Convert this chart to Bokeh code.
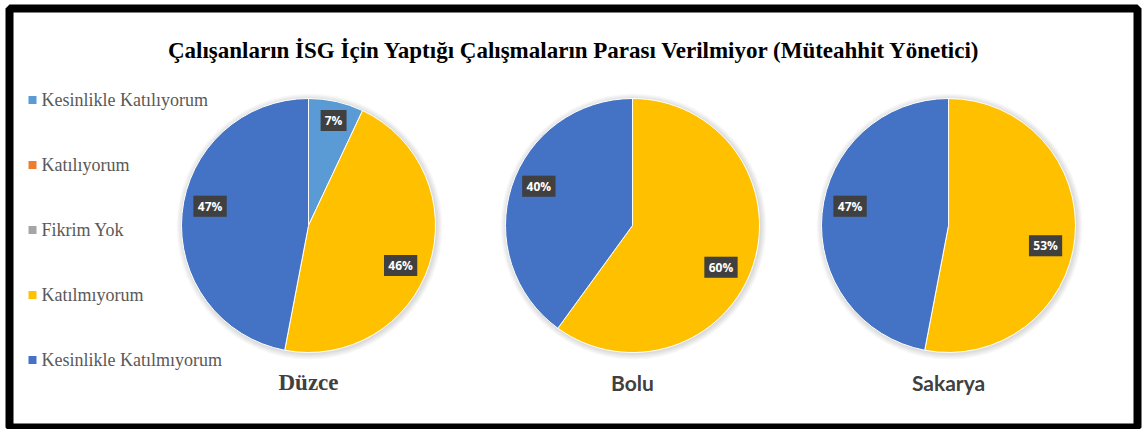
import math
from bokeh.plotting import figure
from bokeh.models import Range1d, ColumnDataSource, Label
from bokeh.core.properties import value
from bokeh.embed import file_html
from bokeh.resources import INLINE

# ---------------- data ----------------
title_text = "Çalışanların İSG İçin Yaptığı Çalışmaların Parası Verilmiyor (Müteahhit Yönetici)"
categories = ["Kesinlikle Katılıyorum", "Katılıyorum", "Fikrim Yok", "Katılmıyorum", "Kesinlikle Katılmıyorum"]
colors = ["#5B9BD5", "#ED7D31", "#A5A5A5", "#FFC000", "#4472C4"]
cities = ["Düzce", "Bolu", "Sakarya"]
duzce = [7, 0, 0, 46, 47]
bolu = [0, 0, 0, 60, 40]
sakarya = [0, 0, 0, 53, 47]
city_values = [duzce, bolu, sakarya]

# ---------------- layout ----------------
W, H = 1144, 429
BL, BR, BT, BB = 9, 7, 8, 2          # plot-frame insets; black outline drawn on frame edge
pie_cx = [308, 632, 948]             # page x of pie centres
pie_cy = 225                         # page y of pie centres
R = 127

def py(y):  # page y -> data y
    return H - y

p = figure(width=W, height=H, output_backend="svg", toolbar_location=None,
           x_range=Range1d(BL, W - BR),
           y_range=Range1d(py(H - BB), py(BT)),
           min_border_left=BL, min_border_right=BR, min_border_top=BT, min_border_bottom=BB)
p.xaxis.visible = False
p.yaxis.visible = False
p.grid.visible = False
p.outline_line_color = "black"
p.outline_line_width = 8
p.border_fill_color = "white"
p.background_fill_color = "white"

# soft shadows around pies
for k in range(1, 7):
    p.circle(x=[cx + 1 for cx in pie_cx], y=[py(pie_cy + 1)] * 3, radius=R + k, radius_units="screen",
             fill_color="black", fill_alpha=0.022, line_color=None)

# wedges per category
wedge_data = {c: dict(x=[], y=[], start=[], end=[]) for c in categories}
lab = dict(x=[], y=[], text=[], w=[])
for ci, vals in enumerate(city_values):
    total = float(sum(vals))
    cum = 0.0
    cx, cy = pie_cx[ci], py(pie_cy)
    for cat, v in zip(categories, vals):
        if v <= 0:
            continue
        f0, f1 = cum / total, (cum + v) / total
        cum += v
        d = wedge_data[cat]
        d["x"].append(cx)
        d["y"].append(cy)
        d["start"].append(math.pi / 2 - 2 * math.pi * f1)
        d["end"].append(math.pi / 2 - 2 * math.pi * f0)
        f = f1 - f0
        mid = 2 * math.pi * (f0 + f1) / 2 + math.radians(12 * f)
        k = 0.86 - 0.15 * f
        lab["x"].append(cx + k * R * math.sin(mid))
        lab["y"].append(cy + k * R * math.cos(mid))
        t = f"{round(100 * v / total)}%"
        lab["text"].append(t)
        lab["w"].append(11 + 7.4 * len(t))

for cat, col in zip(categories, colors):
    src = ColumnDataSource(wedge_data[cat])
    p.wedge(x="x", y="y", radius=R, radius_units="screen", start_angle="start", end_angle="end",
            fill_color=col, line_color="white", line_width=1, source=src)

# data labels
lsrc = ColumnDataSource(lab)
p.rect(x="x", y="y", width="w", height=21, width_units="screen", height_units="screen",
       fill_color="black", fill_alpha=0.15, line_color=None, source=lsrc,
       angle=0)
p.rect(x="x", y="y", width="w", height=21, width_units="screen", height_units="screen",
       fill_color="#404040", line_color=None, source=lsrc)
p.text(x="x", y="y", text="text", source=lsrc, text_color="white", text_align="center",
       text_baseline="middle", text_font=value("Open Sans"), text_font_style="bold",
       text_font_size="12px")

# title
p.add_layout(Label(x=574, y=py(50), text=title_text, text_align="center", text_baseline="middle",
                   text_font="Liberation Serif", text_font_style="bold", text_font_size="23px",
                   text_color="black"))

# city labels
city_fonts = ["Liberation Serif", "Lato", "Lato"]
city_sizes = ["23px", "21px", "21px"]
for ci, name in enumerate(cities):
    p.add_layout(Label(x=pie_cx[ci], y=py(382), text=name, text_align="center", text_baseline="middle",
                       text_font=city_fonts[ci], text_font_style="bold", text_font_size=city_sizes[ci],
                       text_color="#404040"))

# legend (drawn manually so empty categories keep their swatch)
leg = dict(x=[32] * len(categories), y=[py(99.5 + 65 * i) for i in range(len(categories))],
           label=categories, color=colors)
leg["tx"] = [41] * len(categories)
lg = ColumnDataSource(leg)
p.scatter(x="x", y="y", marker="square", size=8, fill_color="color", line_color=None, source=lg)
p.text(x="tx", y="y", text="label", source=lg, text_color="#595959", text_align="left",
       text_baseline="middle", text_font=value("Liberation Serif"), text_font_size="18px")

open("out.html", "w").write(file_html(p, INLINE))
